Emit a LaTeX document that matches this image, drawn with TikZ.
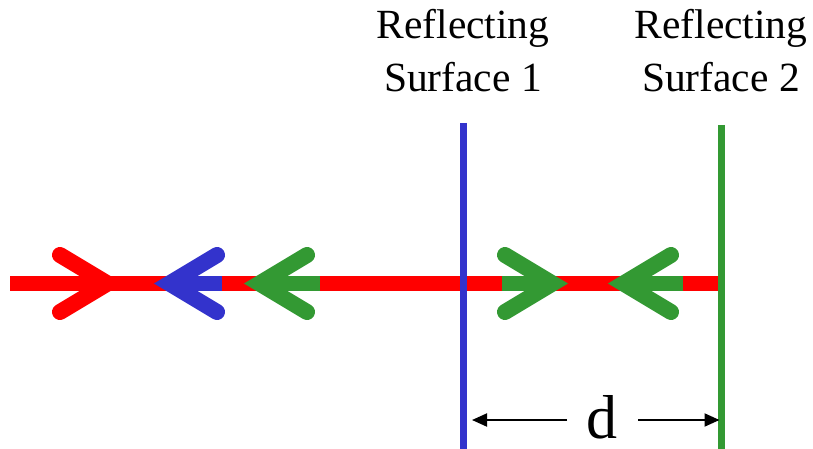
\documentclass[tikz,border=0pt]{standalone}
\usepackage{fontspec}
\setmainfont{Liberation Serif}
\usetikzlibrary{arrows.meta}
\definecolor{myred}{RGB}{255,0,0}
\definecolor{myblue}{RGB}{51,51,204}
\definecolor{mygreen}{RGB}{51,153,51}
\begin{document}
\begin{tikzpicture}[x=1pt,y=-1pt,
  beam/.style={line width=15pt,line cap=butt},
  chev/.style={line width=16pt,line cap=round,line join=miter,miter limit=10},
  surf/.style={line width=7pt},
  dim/.style={line width=2pt,-{Triangle[length=15pt,width=13pt]}},
  lab/.style={font=\fontsize{41.5}{53}\selectfont,align=center,inner sep=0pt,anchor=south}]
\useasboundingbox (0,0) rectangle (813,449);
% coordinates
\coordinate (bs) at (10,283.5);
\coordinate (be) at (721,283.5);
% red beam
\draw[beam,myred] (bs) -- (be);
% red chevron (right-pointing)
\coordinate (r1) at (60,255); \coordinate (rv) at (107.5,283.5); \coordinate (r2) at (60,312);
\draw[chev,myred] (r1) -- (rv) -- (r2);
% blue chevron (left-pointing)
\coordinate (b1) at (217,255); \coordinate (bv) at (169.5,283.5); \coordinate (b2) at (217,312);
\coordinate (bt) at (222,283.5);
\draw[beam,myblue] (bv) -- (bt);
\draw[chev,myblue] (b1) -- (bv) -- (b2);
% green chevron left (left-pointing)
\coordinate (g1) at (307,255); \coordinate (gv) at (259.5,283.5); \coordinate (g2) at (307,312);
\coordinate (gt) at (320,283.5);
\draw[beam,mygreen] (gv) -- (gt);
\draw[chev,mygreen] (g1) -- (gv) -- (g2);
% green chevron right-pointing (between surfaces)
\coordinate (h1) at (505,255); \coordinate (hv) at (552.5,283.5); \coordinate (h2) at (505,312);
\coordinate (ht) at (502,283.5);
\draw[beam,mygreen] (ht) -- (hv);
\draw[chev,mygreen] (h1) -- (hv) -- (h2);
% green chevron left-pointing (between surfaces)
\coordinate (k1) at (671,255); \coordinate (kv) at (623.5,283.5); \coordinate (k2) at (671,312);
\coordinate (kt) at (683,283.5);
\draw[beam,mygreen] (kv) -- (kt);
\draw[chev,mygreen] (k1) -- (kv) -- (k2);
% surfaces
\coordinate (s1t) at (463,123); \coordinate (s1b) at (463,449);
\coordinate (s2t) at (721,125); \coordinate (s2b) at (721,449);
\draw[surf,myblue] (s1t) -- (s1b);
\draw[surf,mygreen] (s2t) -- (s2b);
% labels
\node[lab] (l1) at (463,92) {Reflecting\\Surface 1};
\node[lab] (l2) at (721,92) {Reflecting\\Surface 2};
% dimension
\node[font=\fontsize{62}{70}\selectfont,inner sep=0pt,anchor=base] (d) at (602,438) {d};
\coordinate (dl) at (472,420); \coordinate (dr) at (719.5,420);
\coordinate (dls) at (567,420); \coordinate (drs) at (638,420);
\draw[dim] (dls) -- (dl);
\draw[dim] (drs) -- (dr);
\end{tikzpicture}
\end{document}
